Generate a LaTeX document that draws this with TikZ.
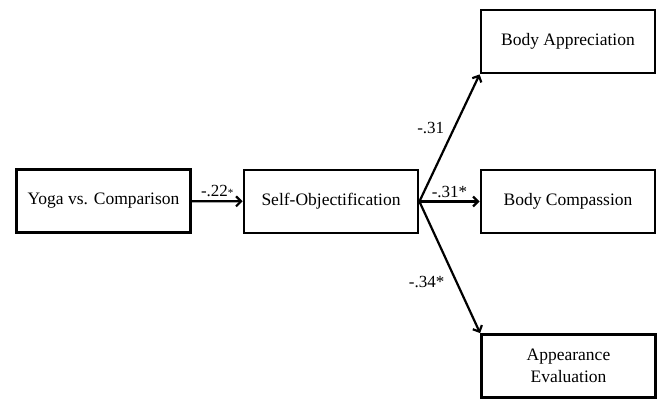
\documentclass[tikz,border=0pt]{standalone}
\usepackage{fontspec}
\setmainfont{Liberation Serif}
\usetikzlibrary{arrows.meta}
\begin{document}
\begin{tikzpicture}
[x=1pt,y=-1pt,
  boxdecorate/.style={shape=rectangle,draw,line width=2.8pt,minimum width=174pt,minimum height=63pt,
    inner sep=2pt,align=center,font=\fontsize{17.5}{22}\selectfont},%
  arrowdecorate/.style={-{Straight Barb[length=5pt,width=10pt]},line width=2.2pt},%
  labeldecorate/.style={font=\fontsize{17}{20}\selectfont,inner sep=3pt}]
\useasboundingbox (0,0) rectangle (657,399);
% nodes or boxes
\node (yoga) at (103.5,201) [boxdecorate] {Yoga vs. Comparison};
\node (selfobj) at (331,201.5) [boxdecorate] {Self-Objectification};
\node (apprec) at (568,41.5) [boxdecorate] {Body Appreciation};
\node (compass) at (568,201.5) [boxdecorate] {Body Compassion};
\node (appear) at (568.5,366) [boxdecorate] {Appearance\\Evaluation};
% edges or paths
\path
(yoga) edge[arrowdecorate] node[labeldecorate,above]{-.22{\fontsize{11}{11}\selectfont*}} (selfobj)
(selfobj.east) edge[arrowdecorate] node[labeldecorate,pos=0.58,left,xshift=-6pt]{-.31} (apprec.south west)
(selfobj) edge[arrowdecorate] node[labeldecorate,above]{-.31*} (compass)
(selfobj.east) edge[arrowdecorate] node[labeldecorate,pos=0.61,left,xshift=-8pt]{-.34*} (appear.north west);
\end{tikzpicture}
\end{document}
